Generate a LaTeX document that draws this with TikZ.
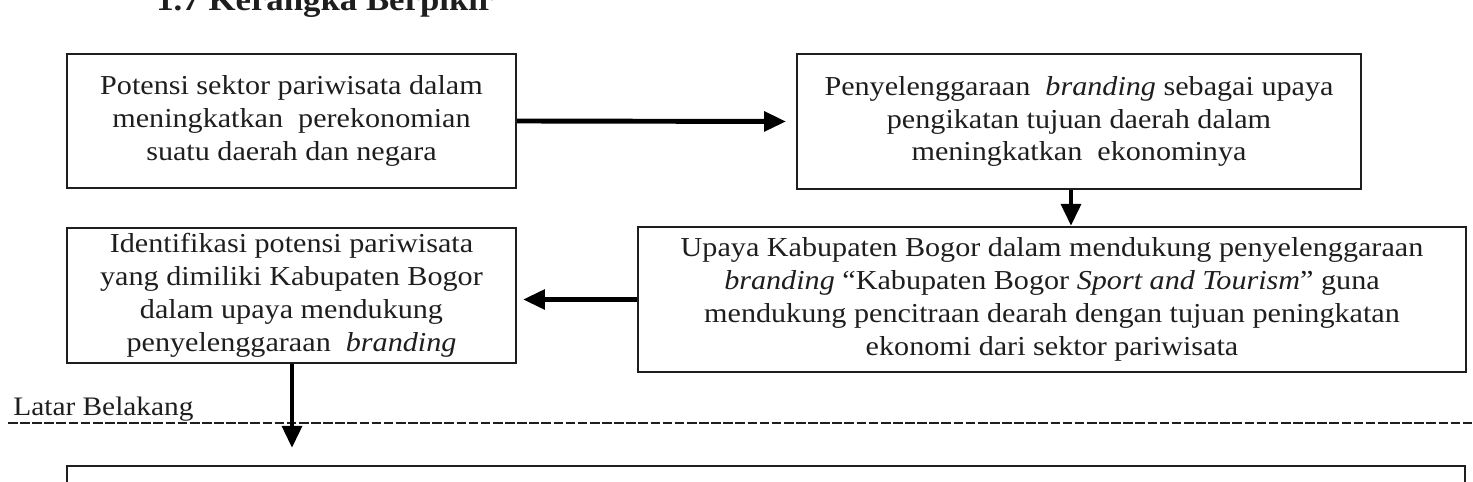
\documentclass[tikz,border=0pt]{standalone}
\usepackage{fontspec}
\setmainfont{Liberation Serif}[FakeStretch=1.1]
\usetikzlibrary{arrows.meta}
\definecolor{ink}{HTML}{1E1E1E}
\tikzset{
  box/.style={draw=ink, line width=1.2pt, inner sep=0pt, align=center, text=ink,
    font=\fontsize{15.6}{18.7}\selectfont},
  conn/.style={line width=2.8pt, draw=black, -{Triangle[length=12.5pt,width=11pt]}},
}
\begin{document}
\begin{tikzpicture}[x=0.02cm,y=-0.02cm]
\useasboundingbox (0,0) rectangle (1473,482);
\node[anchor=base west, font=\fontsize{18}{20}\selectfont\bfseries, text=ink, inner sep=0pt] (head) at (156,11) {1.7 Kerangka Berpikir};
\node[box, minimum width=8.98cm, minimum height=2.68cm] (b1) at (291.5,121)
  {Potensi sektor pariwisata\ dalam\\meningkatkan\ \ perekonomian\\suatu daerah\ dan negara};
\node[box, minimum width=11.28cm, minimum height=2.7cm] (b2) at (1079,121.5)
  {Penyelenggaraan\ \ \textit{branding} sebagai\ upaya\\pengikatan\ tujuan daerah\ dalam\\meningkatkan\ \ ekonominya};
\node[box, minimum width=8.98cm, minimum height=2.7cm] (b3) at (291.5,295.5)
  {Identifikasi\ potensi pariwisata\\yang\ dimiliki Kabupaten Bogor\\dalam upaya\ mendukung\\penyelenggaraan\ \ \textit{branding}};
\node[box, minimum width=16.56cm, minimum height=2.9cm] (b4) at (1052,299.5)
  {Upaya\ Kabupaten Bogor dalam mendukung\ penyelenggaraan\\\textit{branding} “Kabupaten\ Bogor \textit{Sport and Tourism}” guna\\mendukung\ pencitraan dearah dengan\ tujuan peningkatan\\ekonomi\ dari sektor pariwisata};
\node[box, minimum width=27.96cm, minimum height=2cm] (b5) at (766,516) {};
\node[anchor=base west, inner sep=0pt, text=ink, font=\fontsize{15.2}{18}\selectfont] (lb) at (13,416) {Latar Belakang};
\coordinate (dl) at (8,423);
\coordinate (dr) at (1473,423);
\draw[ink, line width=0.7pt, dash pattern=on 5.5pt off 1.4pt] (dl) -- (dr);
\draw[conn] (b1.east) -- ([xshift=-0.2cm]b2.west);
\draw[conn] (b2.south -| 1071,0) -- (b4.north -| 1071,0);
\draw[conn] (b4.west) -- ([xshift=0.12cm]b3.east |- b4.west);
\draw[conn] (b3.south -| 292,0) -- ([yshift=0.34cm]b5.north -| 292,0);
\end{tikzpicture}
\end{document}
